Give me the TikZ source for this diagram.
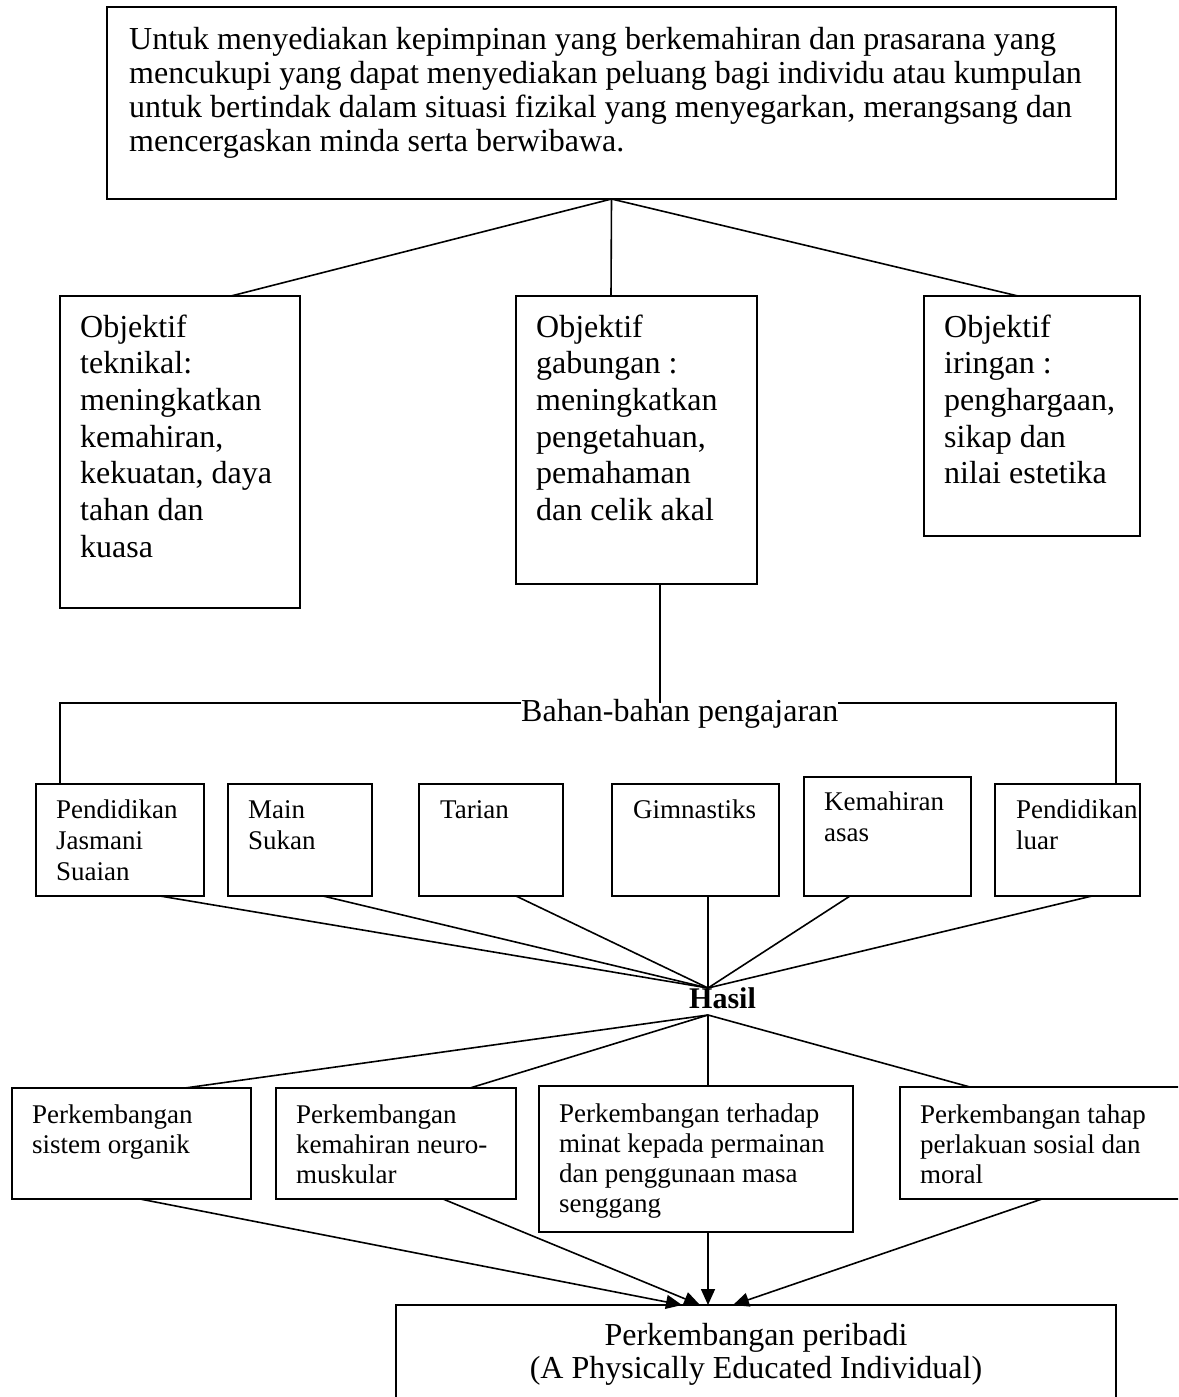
\documentclass[tikz,border=0pt]{standalone}
\usepackage{fontspec}
\setmainfont{Liberation Serif}
\usetikzlibrary{arrows.meta}
\newcommand\lefttab[1]{\begin{tabular}[t]{@{}l@{}}#1\end{tabular}}
\newcommand\centtab[1]{\begin{tabular}[t]{@{}c@{}}#1\end{tabular}}
\tikzset{
  box/.style={draw, line width=2pt, inner sep=0pt, outer sep=0pt, anchor=north west},
  bigtxt/.style={anchor=base west, inner sep=0pt, font=\fontsize{32}{36.7}\selectfont},
  toptxt/.style={anchor=base west, inner sep=0pt, font=\fontsize{32}{34}\selectfont},
  smalltxt/.style={anchor=base west, inner sep=0pt, font=\fontsize{27}{31}\selectfont},
  ctxt/.style={anchor=base west, inner sep=0pt, font=\fontsize{27}{30}\selectfont},
  conn/.style={line width=1.6pt},
  arr/.style={line width=1.6pt, -{Triangle[length=16pt,width=14pt]}}
}
\begin{document}
\begin{tikzpicture}[x=1pt,y=-1pt]
\useasboundingbox (0,0) rectangle (1178,1397);
\fill[white] (0,0) rectangle (1178,1397);
\clip (0,0) rectangle (1178,1397);

% top box
\node[box, minimum width=1009pt, minimum height=192pt] (top) at (107,7) {};
\node[toptxt] (toptext) at (129,50) {\lefttab{Untuk menyediakan kepimpinan yang berkemahiran dan prasarana yang\\mencukupi yang dapat menyediakan peluang bagi individu atau kumpulan\\untuk bertindak dalam situasi fizikal yang menyegarkan, merangsang dan\\mencergaskan minda serta berwibawa.}};

% objective boxes
\node[box, minimum width=240pt, minimum height=312pt] (b1) at (60,296) {};
\node[box, minimum width=241pt, minimum height=288pt] (b2) at (516,296) {};
\node[box, minimum width=216pt, minimum height=240pt] (b3) at (924,296) {};
\node[bigtxt] (b1t) at (80,337) {\lefttab{Objektif\\teknikal:\\meningkatkan\\kemahiran,\\kekuatan, daya\\tahan dan\\kuasa}};
\node[bigtxt] (b2t) at (536,337) {\lefttab{Objektif\\gabungan :\\meningkatkan\\pengetahuan,\\pemahaman\\dan celik akal}};
\node[bigtxt] (b3t) at (944,337) {\lefttab{Objektif\\iringan :\\penghargaan,\\sikap dan\\nilai estetika}};

\draw[conn] (top.south) -- ([xshift=171pt]b1.north west);
\draw[conn] (top.south) -- ([xshift=95pt]b2.north west);
\draw[conn] (top.south) -- ([xshift=94pt]b3.north west);

% teaching materials boxes
\node[box, minimum width=168pt, minimum height=112pt] (m1) at (36,784) {};
\node[box, minimum width=144pt, minimum height=112pt] (m2) at (228,784) {};
\node[box, minimum width=144pt, minimum height=112pt] (m3) at (419,784) {};
\node[box, minimum width=167pt, minimum height=112pt] (m4) at (612,784) {};
\node[box, minimum width=167pt, minimum height=119pt] (m5) at (804,777) {};
\node[box, minimum width=145pt, minimum height=112pt] (m6) at (995,784) {};
\node[smalltxt] (m1t) at (56,818) {\lefttab{Pendidikan\\Jasmani\\Suaian}};
\node[smalltxt] (m2t) at (248,818) {\lefttab{Main\\Sukan}};
\node[smalltxt] (m3t) at (440,818) {Tarian};
\node[smalltxt] (m4t) at (633,818) {Gimnastiks};
\node[smalltxt] (m5t) at (824,810) {\lefttab{Kemahiran\\asas}};
\node[smalltxt] (m6t) at (1016,818) {\lefttab{Pendidikan\\luar}};

\coordinate (join) at (660,703);
\draw[conn] ([xshift=24pt]m1.north west) |- (join) -| ([xshift=121pt]m6.north west);
\node[anchor=base west, inner sep=0pt, fill=white, font=\fontsize{32}{36}\selectfont] (bahan) at (521,721) {Bahan-bahan pengajaran};
\draw[line width=1.4pt] ([xshift=144pt]b2.south west) -- (join);

% Hasil
\coordinate (hasilTop) at (708,988);
\coordinate (hasilBot) at (708,1015);
\node[anchor=base west, inner sep=0pt, font=\fontsize{30}{34}\selectfont\bfseries] (hasil) at (689,1008) {Hasil};

\draw[conn] ([xshift=124pt]m1.south west) -- (hasilTop);
\draw[conn] ([xshift=95pt]m2.south west) -- (hasilTop);
\draw[conn] ([xshift=97pt]m3.south west) -- (hasilTop);
\draw[conn] ([xshift=96pt]m4.south west) -- (hasilTop);
\draw[conn] ([xshift=46pt]m5.south west) -- (hasilTop);
\draw[conn] ([xshift=97pt]m6.south west) -- (hasilTop);

% development boxes
\node[box, minimum width=239pt, minimum height=111pt] (c1) at (12,1088) {};
\node[box, minimum width=240pt, minimum height=111pt] (c2) at (276,1088) {};
\node[box, minimum width=314pt, minimum height=146pt] (c3) at (539,1086) {};
\node[box, minimum width=300pt, minimum height=112pt] (c4) at (900,1087) {};
\node[ctxt] (c1t) at (32,1123) {\lefttab{Perkembangan\\sistem organik}};
\node[ctxt] (c2t) at (296,1123) {\lefttab{Perkembangan\\kemahiran neuro-\\muskular}};
\node[ctxt] (c3t) at (559,1122) {\lefttab{Perkembangan terhadap\\minat kepada permainan\\dan penggunaan masa\\senggang}};
\node[ctxt] (c4t) at (920,1123) {\lefttab{Perkembangan tahap\\perlakuan sosial dan\\moral}};

\draw[conn] (hasilBot) -- ([xshift=173pt]c1.north west);
\draw[conn] (hasilBot) -- ([xshift=194pt]c2.north west);
\draw[conn] (hasilBot) -- ([xshift=169pt]c3.north west);
\draw[conn] (hasilBot) -- ([xshift=70pt]c4.north west);

% final box
\node[box, minimum width=720pt, minimum height=110pt] (fin) at (396,1305) {};
\node[anchor=base, inner sep=0pt, font=\fontsize{32}{33}\selectfont] (fint) at (756,1345) {\centtab{Perkembangan peribadi\\(A Physically Educated Individual)}};

\draw[arr] ([xshift=128pt]c1.south west) -- ([xshift=286pt]fin.north west);
\draw[arr] ([xshift=167pt]c2.south west) -- ([xshift=304pt]fin.north west);
\draw[arr] ([xshift=169pt]c3.south west) -- ([xshift=312pt]fin.north west);
\draw[arr] ([xshift=142pt]c4.south west) -- ([xshift=337pt]fin.north west);
\end{tikzpicture}
\end{document}
